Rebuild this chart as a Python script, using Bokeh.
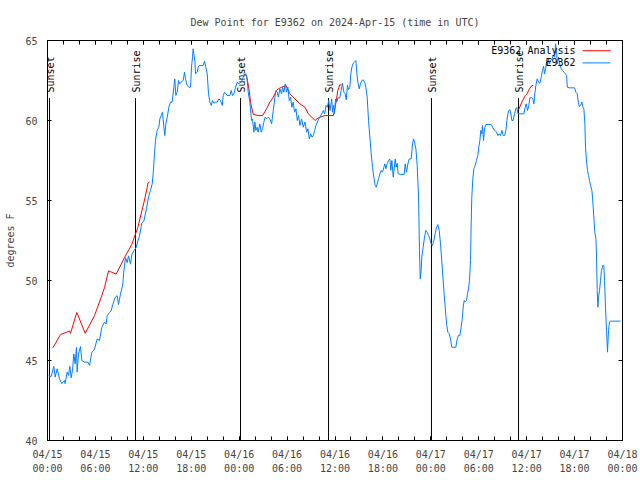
import math
from bokeh.plotting import figure
from bokeh.models import FixedTicker, LinearAxis, Range1d, Label, Arrow
from bokeh.core.properties import value
from bokeh.embed import file_html
from bokeh.resources import INLINE

# ---------------- data (hours since 2024-04-15 00:00 UTC) ----------------
title_text = "Dew Point for E9362 on 2024-Apr-15 (time in UTC)"
series_labels = ["E9362 Analysis", "E9362"]

obs_hours = [
    0.13, 0.46, 0.79, 0.96, 1.21, 1.50, 1.79, 2.13, 2.21, 2.46, 2.63, 2.80, 2.96, 3.13, 3.30, 3.46,
    3.63, 3.71, 3.88, 4.13, 4.30, 4.63, 5.05, 5.26, 5.55, 5.88, 6.22, 6.51, 6.80, 7.14, 7.35, 7.47,
    7.76, 7.97, 8.18, 8.47, 8.72, 8.89, 9.14, 9.43, 9.56, 9.77, 9.98, 10.14, 10.39, 10.56, 10.81,
    11.10, 11.31, 11.52, 11.81, 12.06, 12.40, 12.69, 12.90, 13.11, 13.23, 13.40, 13.52, 13.73,
    13.94, 14.07, 14.23, 14.40, 14.57, 14.69, 14.82, 14.99, 15.20, 15.40, 15.61, 15.82, 15.94,
    16.07, 16.24, 16.41, 16.57, 16.74, 16.99, 17.16, 17.28, 17.49, 17.70, 17.91, 18.03, 18.16,
    18.24, 18.32, 18.45, 18.53, 18.74, 18.87, 18.99, 19.24, 19.49, 19.66, 19.83, 20.00, 20.16,
    20.33, 20.50, 20.67, 20.83, 21.04, 21.25, 21.46, 21.67, 21.88, 22.00, 22.17, 22.34, 22.50,
    22.84, 23.00, 23.17, 23.34, 23.55, 23.76, 23.97, 24.18, 24.29, 24.59, 24.84, 25.00, 25.13,
    25.34, 25.55, 25.68, 25.84, 25.97, 26.09, 26.26, 26.38, 26.59, 26.76, 26.93, 27.09, 27.26,
    27.43, 27.64, 27.85, 28.06, 28.27, 28.48, 28.60, 28.77, 28.90, 29.10, 29.31, 29.44, 29.60,
    29.77, 29.94, 30.10, 30.27, 30.44, 30.60, 30.77, 30.94, 31.11, 31.28, 31.44, 31.61, 31.82,
    32.03, 32.24, 32.45, 32.62, 32.78, 32.95, 33.12, 33.29, 33.45, 33.62, 33.79, 33.96, 34.12,
    34.33, 34.54, 34.71, 34.88, 35.04, 35.21, 35.38, 35.59, 35.69, 35.81, 35.94, 36.06, 36.23,
    36.36, 36.60, 36.77, 36.94, 37.11, 37.27, 37.40, 37.56, 37.69, 37.86, 37.98, 38.11, 38.28,
    38.44, 38.61, 38.74, 38.86, 39.03, 39.19, 39.36, 39.53, 39.70, 39.86, 40.03, 40.20, 40.37,
    40.53, 40.70, 40.86, 41.03, 41.16, 41.28, 41.45, 41.62, 41.79, 41.95, 42.12, 42.24, 42.37,
    42.53, 42.70, 42.87, 42.99, 43.12, 43.29, 43.41, 43.54, 43.66, 43.79, 43.91, 44.25, 44.67,
    44.79, 44.96, 45.13, 45.29, 45.54, 45.71, 45.83, 45.96, 46.13, 46.29, 46.46, 46.58, 46.67,
    46.79, 46.87, 47.04, 47.21, 47.37, 47.54, 47.71, 47.88, 48.04, 48.21, 48.38, 48.54, 48.71,
    48.88, 49.05, 49.21, 49.38, 49.51, 49.63, 49.75, 49.88, 50.00, 50.13, 50.30, 50.46, 50.63,
    50.88, 51.13, 51.30, 51.46, 51.63, 51.80, 51.93, 52.05, 52.18, 52.30, 52.47, 52.59, 52.72,
    52.84, 52.97, 53.05, 53.13, 53.26, 53.38, 53.55, 53.72, 53.88, 54.01, 54.14, 54.26, 54.39,
    54.47, 54.60, 54.72, 54.89, 55.23, 55.56, 55.73, 55.90, 56.06, 56.23, 56.40, 56.57, 56.74,
    56.90, 57.07, 57.24, 57.40, 57.52, 57.65, 57.77, 57.90, 58.02, 58.15, 58.31, 58.48, 58.65,
    58.77, 58.90, 59.06, 59.40, 59.65, 59.82, 59.94, 60.11, 60.27, 60.40, 60.65, 60.78, 60.90,
    61.02, 61.15, 61.32, 61.49, 61.66, 61.82, 61.99, 62.12, 62.24, 62.37, 62.49, 62.62, 62.74,
    62.87, 62.99, 63.16, 63.33, 63.50, 63.62, 63.75, 63.87, 64.00, 64.17, 64.34, 64.50, 64.67,
    64.84, 65.00, 65.09, 65.38, 65.67, 66.01, 66.16, 66.33, 66.46, 66.58, 66.75, 66.91, 67.04,
    67.16, 67.29, 67.37, 67.50, 67.62, 67.75, 67.87, 68.00, 68.17, 68.29, 68.42, 68.54, 68.67,
    68.75, 68.83, 68.92, 69.00, 69.12, 69.25, 69.37, 69.54, 69.66, 69.75, 69.87, 70.00, 70.12,
    70.25, 70.38, 70.50, 71.00, 71.75,
]
obs_dewpt = [
    44.07, 44.00, 44.63, 43.96, 44.48, 43.86, 43.55, 43.75, 43.55, 44.27, 44.07, 44.63, 43.92, 44.38, 45.41, 44.79,
    45.83, 44.27, 45.41, 45.87, 45.00, 44.90, 44.90, 44.70, 45.50, 45.70, 46.35, 46.25, 47.07, 47.39, 47.28, 47.80,
    48.00, 48.11, 48.50, 48.94, 49.05, 48.50, 49.15, 49.77, 50.60, 51.43, 51.12, 51.54, 51.02, 51.64, 51.85,
    52.05, 52.47, 52.78, 53.60, 53.71, 54.50, 55.31, 55.63, 56.04, 56.67, 57.92, 58.75, 59.38,
    59.58, 60.10, 60.31, 60.52, 59.58, 59.06, 59.79, 60.21, 60.83, 61.15, 61.15, 62.08, 62.60,
    61.56, 61.77, 62.50, 62.29, 62.40, 62.50, 63.02, 62.60, 62.19, 62.08, 62.08, 63.33, 63.96,
    64.48, 64.17, 63.75, 62.92, 63.02, 63.33, 63.44, 63.44, 63.44, 63.71, 63.33, 62.92, 61.67,
    61.15, 60.94, 61.25, 61.08, 61.15, 61.15, 61.35, 61.25, 60.94, 61.56, 61.77, 61.67, 61.56,
    61.56, 61.88, 61.56, 61.67, 62.08, 62.40, 62.29, 62.40, 62.40, 62.81, 62.92, 62.60, 61.77,
    61.15, 60.00, 60.10, 59.27, 59.90, 59.38, 59.58, 59.27, 59.79, 59.27, 59.48, 59.90, 60.21,
    60.10, 60.21, 60.10, 59.79, 60.63, 61.46, 61.88, 61.77, 61.46, 61.98, 61.67, 62.08, 61.77,
    62.29, 61.77, 62.08, 61.25, 61.46, 60.83, 61.15, 60.52, 60.73, 60.00, 60.31, 59.69, 60.10,
    59.58, 59.90, 59.27, 59.48, 58.85, 59.17, 58.96, 59.06, 59.38, 59.69, 59.90, 60.10, 60.21,
    60.42, 60.63, 60.42, 60.94, 60.83, 61.25, 60.63, 61.35, 60.52, 60.94, 60.42, 61.35, 61.15,
    61.42, 61.42, 61.88, 62.33, 61.77, 61.67, 61.29, 62.19, 61.92, 62.08, 62.92, 63.33, 63.58,
    63.65, 63.75, 62.92, 62.40, 61.98, 62.29, 62.50, 62.54, 62.40, 62.08, 61.46, 60.00, 58.96,
    57.92, 57.08, 56.46, 55.94, 55.83, 56.04, 56.35, 56.67, 56.88, 56.77, 57.08, 57.29, 56.98,
    57.29, 57.50, 57.60, 56.88, 57.50, 56.46, 56.98, 57.60, 57.08, 57.33, 56.67, 56.63, 56.63,
    57.29, 56.77, 57.29, 57.60, 57.60, 58.54, 58.85, 58.65, 58.23, 57.19, 55.21, 51.88, 50.10,
    50.63, 51.46, 52.08, 52.71, 53.13, 53.02, 52.81, 52.60, 52.29, 52.19, 52.50, 52.92, 53.33,
    53.50, 53.13, 52.29, 51.15, 50.21, 49.38, 48.65, 47.81, 47.19, 46.77, 46.67, 46.35, 45.83,
    45.83, 45.83, 46.35, 46.56, 46.56, 47.08, 47.60, 48.33, 48.75, 48.65, 48.75, 49.17, 49.48,
    50.00, 51.25, 53.54, 55.21, 56.35, 56.98, 57.19, 57.50, 57.81, 58.33, 58.75, 59.38, 59.17,
    59.69, 58.75, 59.48, 59.75, 59.75, 59.75, 59.58, 59.42, 59.38, 59.27, 59.06, 59.17, 59.06,
    59.38, 59.06, 59.06, 59.38, 60.00, 60.42, 60.63, 60.67, 60.42, 60.00, 60.00, 60.42, 60.73,
    60.83, 60.42, 60.42, 60.42, 60.42, 60.83, 61.04, 60.63, 60.94, 61.42, 61.42, 61.35, 61.04,
    61.67, 62.19, 62.60, 62.40, 62.33, 62.71, 63.13, 63.38, 62.92, 63.23, 63.65, 63.44, 63.85,
    63.54, 63.75, 63.85, 64.06, 63.96, 64.79, 64.17, 63.54, 63.96, 63.44, 63.23, 63.13, 63.02,
    62.92, 62.81, 62.08, 62.04, 62.04, 62.04, 61.77, 61.67, 61.15, 60.88, 60.94, 61.15, 60.83,
    60.73, 59.79, 58.33, 57.40, 56.88, 56.56, 56.25, 55.94, 55.63, 54.90, 53.85, 53.02, 52.60,
    51.46, 49.38, 48.33, 48.96, 49.38, 50.00, 50.63, 50.94, 50.94, 50.00, 48.33, 46.88, 45.52,
    46.88, 47.40, 47.46, 47.46, 47.46,
]

ana_hours_1 = [0.67, 1.63, 2.34, 2.75, 2.88, 3.67, 4.72, 5.88, 6.72, 7.14, 7.64, 8.60, 9.64,
               10.56, 11.30, 12.06, 12.40, 12.57, 12.77]
ana_dewpt_1 = [45.79, 46.62, 46.76, 46.85, 46.70, 48.00, 46.70, 47.80, 48.94, 49.56, 50.60, 50.40,
               51.43, 52.26, 53.30, 54.85, 55.60, 56.08, 56.15]
ana_hours_2 = [24.55, 24.92, 25.26, 25.42, 25.76, 26.38, 26.93, 27.43, 27.85, 28.27, 28.69, 28.90,
               29.31, 29.86, 30.36, 30.98, 31.61, 32.24, 32.66, 33.08, 33.50, 33.71, 34.12, 34.75,
               35.38, 35.80, 36.02, 36.19, 36.35, 36.60, 36.81]
ana_dewpt_2 = [62.90, 62.81, 61.88, 61.15, 60.38, 60.31, 60.31, 60.73, 61.15, 61.46, 61.88, 61.98,
               62.08, 62.19, 61.67, 61.35, 61.04, 60.83, 60.42, 60.21, 60.00, 60.10, 60.21, 60.31,
               60.31, 60.31, 60.83, 61.35, 61.88, 62.23, 62.23]
ana_hours_3 = [58.98, 59.40, 59.82, 60.06, 60.35, 60.65, 60.82]
ana_dewpt_3 = [60.67, 61.15, 61.56, 61.67, 61.98, 62.19, 62.19]

sun_hours = [0.25, 11.02, 24.17, 35.19, 48.08, 58.98]
sun_labels = ["Sunset", "Sunrise", "Sunset", "Sunrise", "Sunset", "Sunrise"]

x_tick_hours = [0, 6, 12, 18, 24, 30, 36, 42, 48, 54, 60, 66, 72]
x_tick_labels = ["04/15\n00:00", "04/15\n06:00", "04/15\n12:00", "04/15\n18:00",
                 "04/16\n00:00", "04/16\n06:00", "04/16\n12:00", "04/16\n18:00",
                 "04/17\n00:00", "04/17\n06:00", "04/17\n12:00", "04/17\n18:00",
                 "04/18\n00:00"]
x_minor_hours = [h for h in range(0, 73, 2)]
y_ticks = [40, 45, 50, 55, 60, 65]

# ---------------- styling ----------------
FONT = "DejaVu Sans Mono"
FS = "10px"
RED = "#ff0000"
BLUE = "#0080ff"
X0, X1, Y0, Y1 = 0, 72, 40, 65
SUN_LINE_TOP = 61.4
SUN_TEXT_Y = 61.75

p = figure(width=640, height=480,
           x_range=Range1d(X0, X1), y_range=Range1d(Y0, Y1),
           output_backend="svg", toolbar_location=None,
           min_border_left=47, min_border_right=18, min_border_top=40, min_border_bottom=40,
           title=title_text, background_fill_color="white", border_fill_color="white")

p.title.align = "center"
p.title.text_font = FONT
p.title.text_font_size = FS
p.title.text_font_style = "normal"
p.title.standoff = 25

p.xgrid.visible = False
p.ygrid.visible = False
p.outline_line_color = "black"
p.outline_line_alpha = 1.0

xa = p.xaxis[0]
xa.ticker = FixedTicker(ticks=x_tick_hours, minor_ticks=x_minor_hours)
xa.major_label_overrides = {h: lab for h, lab in zip(x_tick_hours, x_tick_labels)}
xa.major_label_text_font = FONT
xa.major_label_text_font_size = FS
xa.major_label_text_line_height = 1.35
xa.major_label_standoff = 8
xa.major_tick_in = 4
xa.major_tick_out = 0
xa.minor_tick_in = 4
xa.minor_tick_out = 0
xa.axis_line_color = "black"

ya = p.yaxis[0]
ya.ticker = FixedTicker(ticks=y_ticks, minor_ticks=[])
ya.major_label_text_font = FONT
ya.major_label_text_font_size = FS
ya.major_label_standoff = 10
ya.major_tick_in = 4
ya.major_tick_out = 0
ya.axis_label = "degrees F"
ya.axis_label_text_font = FONT
ya.axis_label_text_font_size = FS
ya.axis_label_text_font_style = "normal"
ya.axis_label_standoff = 6

top_axis = LinearAxis(ticker=FixedTicker(ticks=x_tick_hours, minor_ticks=x_minor_hours),
                      major_label_overrides={h: "" for h in x_tick_hours},
                      major_tick_in=4, major_tick_out=0, minor_tick_in=4, minor_tick_out=0,
                      axis_line_color=None, major_label_standoff=0)
p.add_layout(top_axis, "above")
right_axis = LinearAxis(ticker=FixedTicker(ticks=y_ticks, minor_ticks=[]),
                        major_label_overrides={t: "" for t in y_ticks},
                        major_tick_in=4, major_tick_out=0, minor_tick_line_color=None,
                        axis_line_color=None, major_label_standoff=0)
p.add_layout(right_axis, "right")

# sunrise / sunset markers
p.segment(x0=sun_hours, y0=[Y0] * len(sun_hours), x1=sun_hours, y1=[SUN_LINE_TOP] * len(sun_hours),
          line_color="black", line_width=1)
p.text(x=sun_hours, y=[SUN_TEXT_Y] * len(sun_hours), text=sun_labels, angle=math.pi / 2,
       text_align="left", text_baseline="middle", x_offset=1,
       text_font=value(FONT), text_font_size=FS, text_color="black")

# series
p.multi_line(xs=[ana_hours_1, ana_hours_2, ana_hours_3],
             ys=[ana_dewpt_1, ana_dewpt_2, ana_dewpt_3], line_color=RED, line_width=1)
p.line(obs_hours, obs_dewpt, line_color=BLUE, line_width=1)

# key (text on the left, sample line on the right, as in the original)
key_text_x = 66.12
key_line_x = (67.0, 70.5)
key_rows_y = [64.36, 63.6]
for lab, col, ky in zip(series_labels, [RED, BLUE], key_rows_y):
    p.add_layout(Label(x=key_text_x, y=ky, text=lab, text_align="right", text_baseline="middle",
                       text_font=FONT, text_font_size=FS, text_color="black"))
    p.add_layout(Arrow(end=None, x_start=key_line_x[0], y_start=ky, x_end=key_line_x[1], y_end=ky,
                       line_color=col, line_width=1))

open("out.html", "w").write(file_html(p, INLINE))
